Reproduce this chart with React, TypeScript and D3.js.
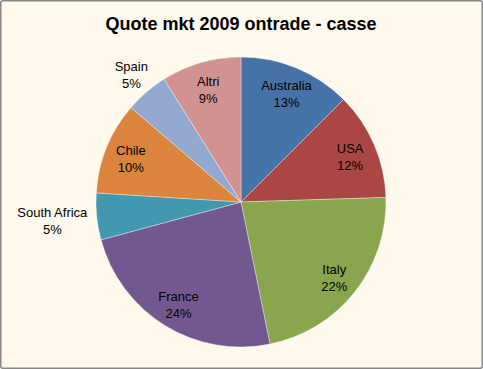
import { useEffect, useRef } from "react"
import * as d3 from "d3"

const categories = ["Australia", "USA", "Italy", "France", "South Africa", "Chile", "Spain", "Altri"]
const shares = [12.5, 12, 22.3, 24, 5.2, 10.3, 4.8, 8.9]
const colors = ["#4672A8", "#AA4744", "#89A54E", "#71598F", "#4298AF", "#DB843D", "#93A9CF", "#D19392"]

const title = "Quote mkt 2009 ontrade - casse"

interface Slice {
  label: string
  value: number
  color: string
}

export default function App() {
  const svgRef = useRef<SVGSVGElement>(null)
  const width = 483
  const height = 369

  useEffect(() => {
    document.body.style.margin = "0"
    if (!svgRef.current) return
    const svg = d3.select(svgRef.current)
    svg.selectAll("*").remove()

    const data: Slice[] = categories.map((c, i) => ({ label: c, value: shares[i], color: colors[i] }))
    const total = d3.sum(shares)

    svg.append("rect")
      .attr("x", 0.75).attr("y", 0.75)
      .attr("width", width - 1.5).attr("height", height - 1.5)
      .attr("rx", 2)
      .attr("fill", "#FFF9EE")
      .attr("stroke", "#868686")
      .attr("stroke-width", 1.5)

    svg.append("text")
      .attr("x", 241).attr("y", 30)
      .attr("text-anchor", "middle")
      .attr("font-family", "Liberation Sans, Arial, sans-serif")
      .attr("font-weight", "bold")
      .attr("font-size", 18)
      .attr("fill", "#000")
      .text(title)

    const cx = 241
    const cy = 202
    const R = 145

    const g = svg.append("g").attr("transform", `translate(${cx},${cy})`)

    const pie = d3.pie<Slice>().sort(null).value((d) => d.value)
    const arc = d3.arc<d3.PieArcDatum<Slice>>().innerRadius(0).outerRadius(R)
    const arcs = pie(data)

    g.selectAll("path.slice")
      .data(arcs)
      .enter()
      .append("path")
      .attr("class", "slice")
      .attr("d", arc)
      .attr("fill", (d) => d.data.color)
      .attr("stroke", "#ffffff")
      .attr("stroke-opacity", 0.6)
      .attr("stroke-width", 0.6)

    const font = "Liberation Sans, Arial, sans-serif"
    const fs = 13
    const lineH = 17

    arcs.forEach((a) => {
      const mid = (a.startAngle + a.endAngle) / 2
      const pct = Math.round((a.data.value / total) * 100) + "%"
      const small = a.data.value / total < 0.06
      let x: number, y: number
      if (!small) {
        const r = R * 0.82
        x = r * Math.sin(mid)
        y = -r * Math.cos(mid)
      } else {
        // outside label: box corner nearest the pie
        const r = R + 8
        const px = r * Math.sin(mid)
        const py = -r * Math.cos(mid)
        const w = a.data.label.length * fs * 0.47
        const h = lineH * 2
        x = px + (w / 2) * Math.sin(mid)
        y = py - (h / 2) * Math.cos(mid)
      }
      const t = g.append("text")
        .attr("text-anchor", "middle")
        .attr("font-family", font)
        .attr("font-size", fs)
        .attr("fill", "#000")
      t.append("tspan").attr("x", x).attr("y", y - 2).text(a.data.label)
      t.append("tspan").attr("x", x).attr("y", y - 2 + lineH).text(pct)
    })
  }, [])

  return <svg ref={svgRef} width={width} height={height} style={{ display: "block" }} />
}
